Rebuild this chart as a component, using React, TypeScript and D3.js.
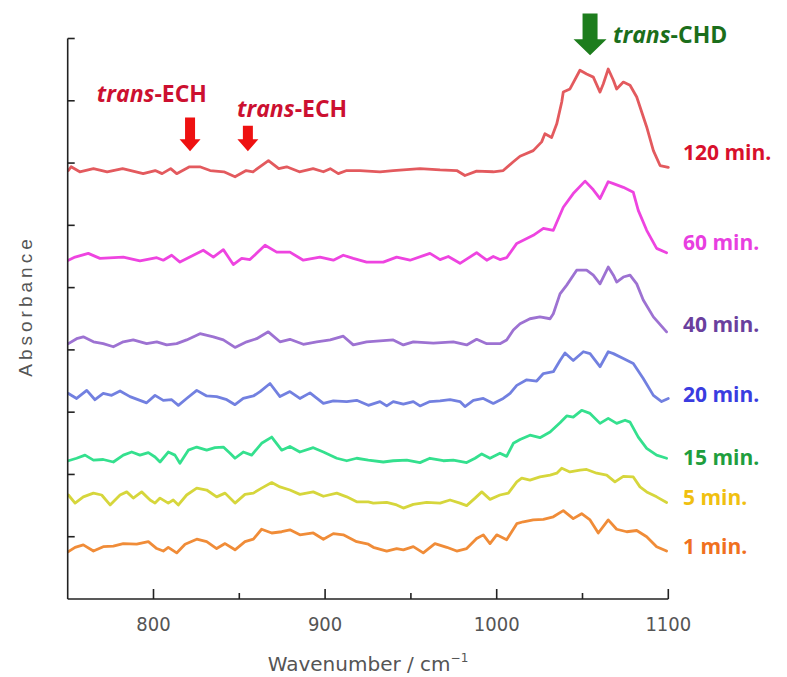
import React from "react";
import * as d3 from "d3";

// ---------- data ----------
const wavenumberTicks = [800, 850, 900, 950, 1000, 1050, 1100];
const wavenumberLabels = [800, 900, 1000, 1100];
const absorbanceTicks = [0.1, 0.2, 0.3, 0.4, 0.5, 0.6, 0.7, 0.8, 0.9];

const seriesNames = ["120 min.", "60 min.", "40 min.", "20 min.", "15 min.", "5 min.", "1 min."];
const seriesLabelLevel = [0.717, 0.574, 0.441, 0.329, 0.228, 0.164, 0.085];

const s120: [number, number][] = [[750.4,0.688],[752,0.694],[757,0.686],[765,0.691],[773,0.686],[782,0.691],[794,0.683],[801,0.688],[805,0.683],[810,0.691],[813.5,0.683],[821,0.694],[827,0.694],[833,0.688],[841,0.686],[847.5,0.678],[854,0.688],[858,0.686],[867,0.704],[873,0.691],[877.6,0.694],[885,0.686],[893,0.691],[899,0.686],[903,0.691],[907.7,0.683],[912.6,0.688],[920.3,0.688],[932,0.686],[939.7,0.688],[955.3,0.691],[967,0.689],[976.7,0.688],[981.5,0.680],[988.3,0.687],[998,0.686],[1003.8,0.688],[1009.7,0.702],[1013.6,0.711],[1021.3,0.720],[1026.2,0.734],[1028.1,0.747],[1032,0.741],[1035,0.763],[1037.9,0.798],[1038.8,0.814],[1042.7,0.819],[1048.5,0.849],[1052.4,0.843],[1056.3,0.838],[1060.2,0.814],[1062.1,0.827],[1065,0.851],[1068,0.833],[1069.9,0.819],[1073.8,0.830],[1077.7,0.825],[1081.6,0.806],[1087.4,0.758],[1091.3,0.720],[1095.2,0.696],[1100,0.693]];

const s60: [number, number][] = [[750.4,0.544],[754.3,0.549],[762,0.555],[768.8,0.547],[782.4,0.549],[792.1,0.543],[801.9,0.548],[805.7,0.544],[810.6,0.552],[815.4,0.541],[823.2,0.552],[829,0.560],[834.9,0.549],[840.7,0.561],[846.5,0.537],[851.4,0.547],[856.2,0.545],[865,0.568],[871.8,0.557],[879.5,0.557],[887.3,0.544],[897,0.549],[904.8,0.544],[910.6,0.552],[916.4,0.547],[924.2,0.541],[933.9,0.541],[941.7,0.549],[949.5,0.544],[961.1,0.555],[967,0.545],[971.8,0.550],[978.6,0.539],[988.3,0.556],[994.2,0.544],[998,0.550],[1001.9,0.545],[1005.8,0.548],[1011.7,0.571],[1015.5,0.576],[1021.3,0.584],[1027.2,0.595],[1033,0.592],[1038.8,0.629],[1044.6,0.651],[1051.5,0.671],[1056.3,0.657],[1060.2,0.643],[1065,0.670],[1068,0.667],[1073.8,0.661],[1079.6,0.653],[1082.5,0.624],[1087.4,0.592],[1093.2,0.563],[1099,0.556]];

const s40: [number, number][] = [[750.4,0.410],[755.2,0.418],[759.1,0.421],[765,0.413],[770.7,0.410],[776.6,0.405],[782.4,0.413],[788.2,0.416],[796,0.410],[801.9,0.413],[807.7,0.408],[813.5,0.410],[819.3,0.416],[827.1,0.426],[834.9,0.421],[840.7,0.416],[847.5,0.404],[854.3,0.413],[860.1,0.418],[866.9,0.429],[873.7,0.413],[879.5,0.417],[887.3,0.409],[895.1,0.413],[903,0.416],[910.6,0.422],[916.4,0.408],[924.2,0.413],[939.7,0.416],[945.6,0.408],[951.4,0.413],[963.1,0.411],[974.7,0.413],[982.5,0.408],[988.3,0.417],[994.2,0.410],[1001.9,0.410],[1005.8,0.416],[1009.7,0.432],[1013.6,0.442],[1019.4,0.450],[1025.2,0.453],[1031.1,0.450],[1033,0.458],[1036.9,0.490],[1040.8,0.504],[1046.6,0.528],[1052.4,0.528],[1056.3,0.520],[1060.2,0.506],[1065,0.533],[1068,0.520],[1069.9,0.509],[1073.8,0.517],[1077.7,0.520],[1081.6,0.506],[1085.4,0.480],[1091.3,0.453],[1099,0.429]];

const s20: [number, number][] = [[750.4,0.330],[755.2,0.322],[761.1,0.335],[765.9,0.320],[770.7,0.330],[775.6,0.327],[780.5,0.334],[786.3,0.325],[792.1,0.319],[796,0.315],[800.9,0.327],[805.7,0.319],[810.6,0.320],[814.5,0.311],[819.3,0.322],[825.2,0.335],[831,0.326],[836.8,0.325],[842.7,0.320],[847.5,0.312],[852.3,0.322],[858.2,0.326],[862.1,0.333],[867.9,0.346],[873.7,0.325],[879.5,0.333],[885.3,0.322],[891.2,0.331],[899,0.314],[904.8,0.318],[912.6,0.317],[918.4,0.319],[925.2,0.311],[932,0.317],[935.9,0.310],[939.7,0.317],[945.6,0.313],[951.4,0.317],[955.3,0.310],[961.1,0.317],[967,0.318],[972.8,0.320],[978.6,0.317],[981.5,0.309],[986.4,0.319],[992.2,0.322],[998,0.314],[1003.8,0.322],[1007.8,0.330],[1011.7,0.343],[1017.5,0.352],[1023.3,0.350],[1027.2,0.362],[1033,0.365],[1036.9,0.383],[1039.8,0.395],[1044.6,0.383],[1050.5,0.397],[1054.4,0.394],[1060.2,0.373],[1065,0.397],[1068,0.394],[1073.8,0.386],[1079.6,0.378],[1085.4,0.354],[1091.3,0.327],[1096.1,0.317],[1100,0.322]];

const s15: [number, number][] = [[750.4,0.222],[755.2,0.226],[760.1,0.231],[765,0.223],[770.7,0.224],[776.6,0.220],[782.4,0.231],[787.3,0.236],[792.1,0.231],[797,0.235],[800.9,0.228],[803.8,0.220],[808.6,0.236],[812.5,0.231],[815.4,0.218],[820.3,0.239],[825.2,0.244],[831,0.239],[835.8,0.243],[840.7,0.244],[844.6,0.234],[847.5,0.226],[852.3,0.236],[857.2,0.231],[863,0.250],[868.9,0.260],[874.7,0.239],[879.5,0.245],[885.3,0.236],[893.1,0.243],[899,0.236],[906.8,0.226],[912.6,0.222],[918.4,0.226],[925.2,0.223],[933.9,0.220],[939.7,0.222],[947.6,0.223],[955.3,0.219],[961.1,0.226],[968.9,0.222],[974.7,0.223],[982.5,0.219],[987.4,0.226],[991.3,0.233],[996.1,0.226],[1001.9,0.234],[1005.8,0.229],[1009.7,0.250],[1013.6,0.256],[1019.4,0.263],[1025.2,0.259],[1031.1,0.268],[1036.9,0.283],[1040.8,0.294],[1044.6,0.292],[1049.5,0.303],[1054.4,0.298],[1060.2,0.282],[1065,0.290],[1069.9,0.282],[1074.8,0.287],[1077.7,0.284],[1082.5,0.260],[1087.4,0.242],[1093.2,0.231],[1099,0.226]];

const s5: [number, number][] = [[750.4,0.167],[754.3,0.154],[759.1,0.164],[765,0.170],[769.8,0.167],[774.7,0.151],[780.5,0.167],[784.4,0.172],[788.2,0.162],[793.1,0.172],[798,0.159],[800.9,0.154],[803.8,0.162],[808.6,0.154],[811.5,0.159],[814.5,0.151],[819.3,0.167],[825.2,0.178],[831,0.175],[836.8,0.164],[841.7,0.170],[847.5,0.154],[853.3,0.168],[858.2,0.170],[863,0.178],[868.9,0.187],[873.7,0.180],[879.5,0.175],[885.3,0.168],[893.1,0.172],[899,0.165],[906.8,0.170],[912.6,0.164],[918.4,0.156],[925.2,0.156],[928.1,0.154],[935.9,0.155],[941.7,0.151],[945.6,0.146],[951.4,0.152],[959.2,0.155],[967,0.154],[972.8,0.159],[978.6,0.154],[982.5,0.150],[987.4,0.162],[991.3,0.172],[996.1,0.160],[1001.9,0.167],[1006.8,0.170],[1011.7,0.188],[1014.6,0.194],[1019.4,0.191],[1025.2,0.196],[1031.1,0.199],[1035,0.202],[1037.9,0.210],[1042.7,0.204],[1048.5,0.207],[1052.4,0.208],[1058.3,0.202],[1064.1,0.199],[1068.9,0.188],[1073.8,0.197],[1079.6,0.196],[1083.5,0.180],[1087.4,0.172],[1093.2,0.164],[1099,0.155]];

const s1: [number, number][] = [[750.4,0.076],[754.3,0.083],[759.1,0.087],[765,0.077],[770.7,0.084],[776.6,0.085],[782.4,0.089],[790.2,0.088],[797,0.092],[801.9,0.081],[805.7,0.077],[808.6,0.083],[813.5,0.074],[818.4,0.088],[825.2,0.096],[831,0.092],[836.8,0.081],[841.7,0.089],[847.5,0.079],[853.3,0.092],[858.2,0.096],[863,0.112],[868.9,0.106],[874.7,0.108],[879.5,0.111],[885.3,0.103],[893.1,0.106],[899,0.096],[904.8,0.105],[910.6,0.103],[918.4,0.092],[925.2,0.088],[928.1,0.083],[935.9,0.077],[941.7,0.081],[945.6,0.079],[951.4,0.084],[957.2,0.074],[964,0.089],[970.9,0.083],[976.7,0.077],[982.5,0.081],[988.3,0.097],[992.2,0.103],[996.1,0.089],[1000,0.103],[1005.8,0.095],[1011.7,0.121],[1015.5,0.124],[1021.3,0.127],[1027.2,0.128],[1033,0.132],[1038.8,0.142],[1044.6,0.129],[1049.5,0.137],[1054.4,0.127],[1059.2,0.106],[1065,0.127],[1069.9,0.112],[1075.8,0.108],[1081.6,0.110],[1087.4,0.100],[1093.2,0.084],[1099,0.077]];

const seriesData = [s120, s60, s40, s20, s15, s5, s1];

// annotations: [italic part, rest, wavenumber of text start, absorbance level]
const echLabels: [string, string, number, number][] = [
  ["trans", "-ECH", 767, 0.812],
  ["trans", "-ECH", 848.7, 0.789],
];
const chdLabel: [string, string, number, number] = ["trans", "-CHD", 1067.8, 0.908];
// arrows: [wavenumber, top absorbance, tip absorbance]
const echArrows: [number, number, number][] = [
  [821.3, 0.773, 0.719],
  [855.0, 0.760, 0.719],
];
const chdArrow: [number, number, number] = [1054.4, 0.940, 0.873];

// ---------- styles ----------
const lineColors = ["#e35a5e", "#ee44e0", "#9d72d2", "#7280e0", "#34e08e", "#d6d63c", "#f08c38"];
const labelColors = ["#d8102c", "#e83ee0", "#6a3f9e", "#3a3ce0", "#1f9e3e", "#f0c010", "#f07020"];

const W = 787;
const H = 677;

function downArrow(cx: number, yTop: number, yTip: number, shaftW: number, headW: number, headH: number) {
  const yHead = yTip - headH;
  return [
    [cx - shaftW / 2, yTop],
    [cx + shaftW / 2, yTop],
    [cx + shaftW / 2, yHead],
    [cx + headW / 2, yHead],
    [cx, yTip],
    [cx - headW / 2, yHead],
    [cx - shaftW / 2, yHead],
  ].map((p, i) => (i === 0 ? "M" : "L") + p[0] + "," + p[1]).join(" ") + " Z";
}

export default function App() {
  const x = d3.scaleLinear().domain([750, 1100]).range([67.7, 668.3]);
  const y = d3.scaleLinear().domain([0, 0.9]).range([599, 38.5]);
  const line = d3
    .line<[number, number]>()
    .x((d) => x(d[0]))
    .y((d) => y(d[1]))
    .curve(d3.curveLinear);

  const annoFont = "'Open Sans', 'Noto Sans', sans-serif";
  const axisFont = "'Liberation Sans Narrow', 'DejaVu Sans Condensed', 'Liberation Sans', sans-serif";

  return (
    <div style={{ position: "absolute", left: 0, top: 0 }}>
      <svg width={W} height={H} style={{ display: "block", background: "#ffffff" }}>
        {/* series */}
        {seriesData.map((d, i) => (
          <path
            key={"s" + i}
            d={line(d) || ""}
            fill="none"
            stroke={lineColors[i]}
            strokeWidth={2.8}
            strokeLinejoin="round"
            strokeLinecap="round"
          />
        ))}

        {/* axes */}
        <line x1={x(750)} x2={x(750)} y1={y(0)} y2={y(0.9)} stroke="#222" strokeWidth={1.6} />
        <line x1={x(750)} x2={x(1100)} y1={y(0)} y2={y(0)} stroke="#222" strokeWidth={1.6} />
        {absorbanceTicks.map((t) => (
          <line key={"yt" + t} x1={x(750)} x2={x(750) + 7} y1={y(t)} y2={y(t)} stroke="#222" strokeWidth={1.6} />
        ))}
        {wavenumberTicks.map((t) => (
          <line
            key={"xt" + t}
            x1={x(t)}
            x2={x(t)}
            y1={y(0)}
            y2={y(0) - (t % 100 === 0 ? 10 : 6)}
            stroke="#222"
            strokeWidth={1.6}
          />
        ))}
        {wavenumberLabels.map((t) => (
          <text
            key={"xl" + t}
            x={x(t)}
            y={y(0) + 32}
            textAnchor="middle"
            fontFamily={axisFont}
            fontSize={20}
            fill="#555"
          >
            {t}
          </text>
        ))}
        <text
          x={(x(750) + x(1100)) / 2}
          y={671}
          textAnchor="middle"
          fontFamily="'DejaVu Sans', sans-serif"
          fontSize={20}
          fill="#555"
        >
          Wavenumber / cm
          <tspan dy={-9} fontSize={12}>
            −1
          </tspan>
        </text>
        <text
          transform={`translate(32, 306) rotate(-90)`}
          textAnchor="middle"
          fontFamily="'Liberation Sans', Arial, sans-serif"
          fontSize={19}
          letterSpacing={4}
          fill="#555"
        >
          Absorbance
        </text>

        {/* series labels */}
        {seriesNames.map((n, i) => (
          <text
            key={"lab" + i}
            x={683}
            y={y(seriesLabelLevel[i])}
            dominantBaseline="central"
            fontFamily={annoFont}
            fontWeight={700}
            fontSize={21}
            fill={labelColors[i]}
          >
            {n}
          </text>
        ))}

        {/* annotations */}
        {echArrows.map((a, i) => (
          <path
            key={"ea" + i}
            d={downArrow(x(a[0]), y(a[1]), y(a[2]), 10, 21, 12)}
            fill="#ee1111"
          />
        ))}
        {echLabels.map((l, i) => (
          <text
            key={"el" + i}
            x={x(l[2])}
            y={y(l[3])}
            dominantBaseline="central"
            fontFamily={annoFont}
            fontWeight={700}
            fontSize={23}
            fill="#cc1030"
          >
            <tspan fontStyle="italic">{l[0]}</tspan>
            <tspan>{l[1]}</tspan>
          </text>
        ))}
        <path d={downArrow(x(chdArrow[0]), y(chdArrow[1]), y(chdArrow[2]), 15, 33, 16)} fill="#1d7d1d" />
        <text
          x={x(chdLabel[2])}
          y={y(chdLabel[3])}
          dominantBaseline="central"
          fontFamily={annoFont}
          fontWeight={700}
          fontSize={23}
          fill="#1b6e1b"
        >
          <tspan fontStyle="italic">{chdLabel[0]}</tspan>
          <tspan>{chdLabel[1]}</tspan>
        </text>
      </svg>
    </div>
  );
}
